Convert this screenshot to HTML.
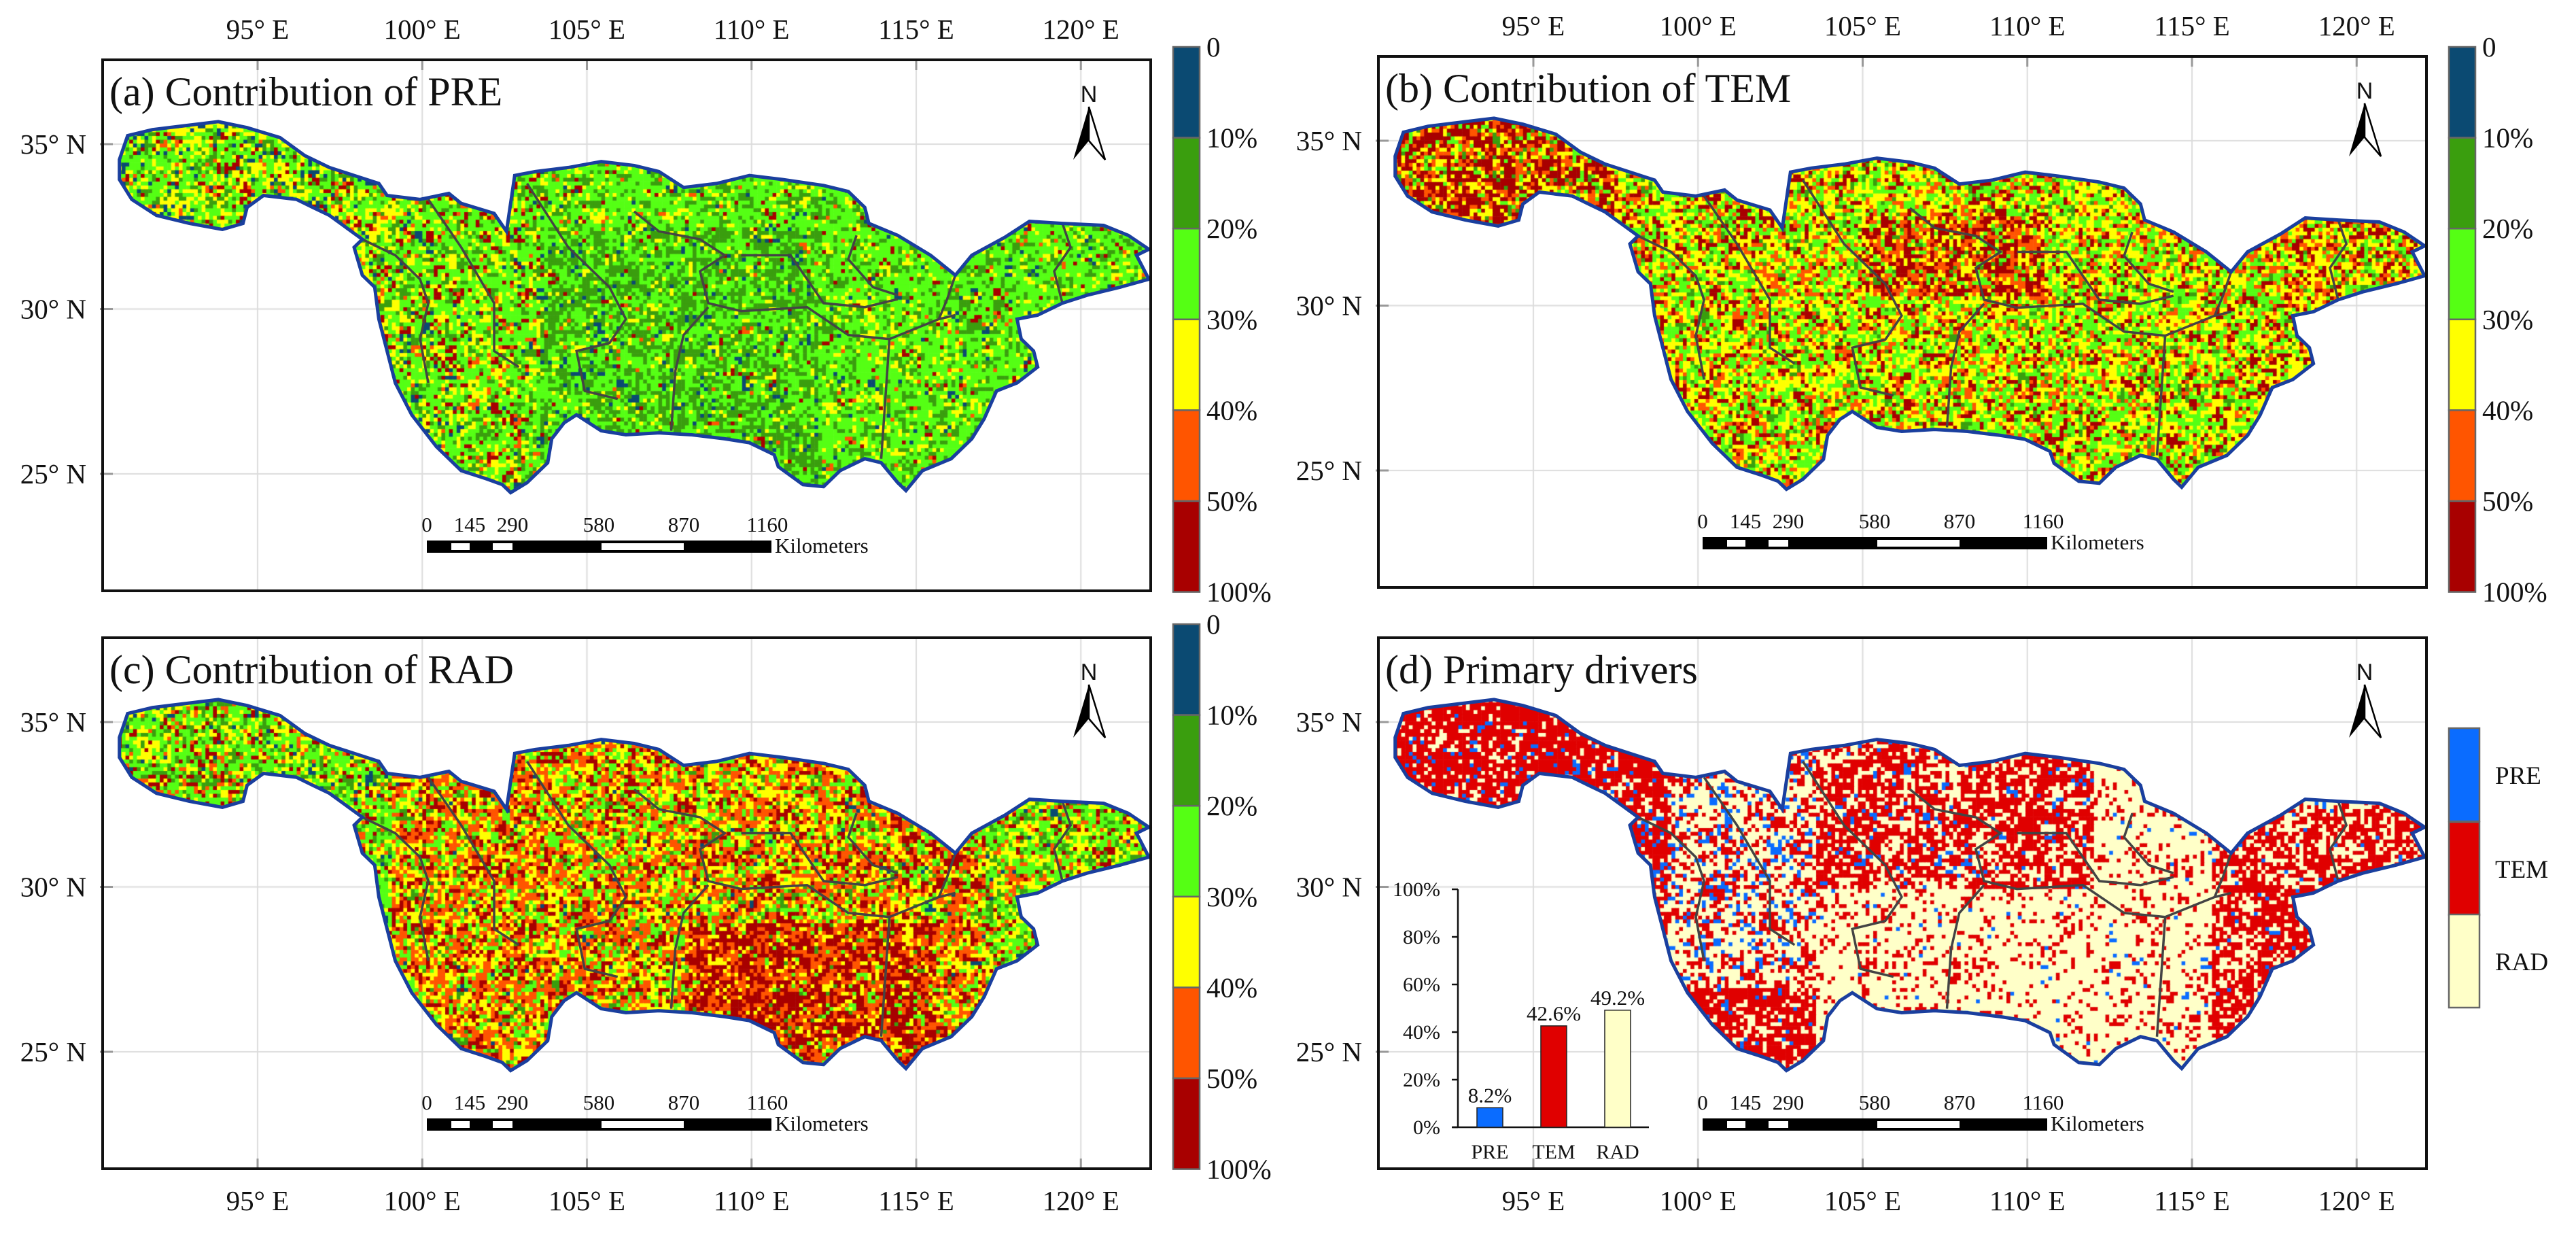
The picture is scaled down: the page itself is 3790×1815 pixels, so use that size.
<!DOCTYPE html>
<html><head><meta charset="utf-8">
<style>
html,body{margin:0;padding:0;background:#fff;}
#wrap{position:relative;width:3790px;height:1815px;overflow:hidden;}
#cv,#sv{position:absolute;left:0;top:0;}
text{font-family:"Liberation Serif",serif;fill:#111;}
</style></head>
<body>
<div id="wrap">
<canvas id="cv" width="3790" height="1815"></canvas>
<svg id="sv" width="3790" height="1815" xmlns="http://www.w3.org/2000/svg"></svg>
</div>
<script>
// ---- data ----
const lonTicks = [95,100,105,110,115,120];
const latTicks = [35,30,25];
const cbLabels = ['0','10%','20%','30%','40%','50%','100%'];
const cbColors = ['#0b4a72','#3a9e0e','#55ff14','#ffff00','#ff5500','#a80000'];
const scaleLabels = ['0','145','290','580','870','1160'];
const insetCats = ['PRE','TEM','RAD'];
const insetVals = [8.2,42.6,49.2];
const insetTicks = [0,20,40,60,80,100];
const driverColors = ['#0a6cff','#e00000','#ffffc8'];
const titles = ['(a) Contribution of PRE','(b) Contribution of TEM','(c) Contribution of RAD','(d) Primary drivers'];
// basin outline (traced)
const outline = [[145,400],[155,340],[185,325],[265,305],[300,320],[340,345],[370,390],[400,420],[430,440],[460,460],[470,490],[510,500],[545,485],[560,510],[600,535],[615,580],[625,440],[650,430],[690,420],[730,405],[770,415],[800,430],[830,470],[870,460],[910,440],[950,450],[1000,465],[1030,480],[1050,520],[1055,560],[1090,590],[1130,640],[1160,690],[1180,640],[1220,595],[1250,555],[1290,560],[1340,565],[1370,590],[1395,625],[1380,640],[1395,700],[1360,720],[1320,740],[1290,760],[1260,790],[1235,800],[1240,850],[1255,880],[1260,920],[1235,960],[1210,980],[1195,1050],[1180,1100],[1155,1150],[1120,1180],[1100,1230],[1090,1210],[1070,1160],[1050,1150],[1020,1180],[1000,1220],[975,1215],[945,1170],[940,1140],[910,1110],[880,1100],[840,1090],[800,1085],[760,1090],[730,1080],[700,1040],[685,1060],[670,1100],[665,1160],[640,1210],[620,1235],[610,1215],[590,1200],[560,1180],[530,1120],[500,1040],[480,960],[470,880],[460,800],[455,720],[440,690],[430,620],[440,600],[420,570],[400,540],[380,520],[360,500],[320,490],[300,520],[295,560],[270,575],[230,560],[190,540],[160,500],[145,450]];
const subLines = [
 [[440,600],[480,640],[510,700],[520,760],[510,850],[520,960]],
 [[520,500],[560,620],[600,760],[600,880],[630,920]],
 [[640,460],[690,620],[740,720],[760,800],[740,860],[700,880],[710,980],[750,1000]],
 [[770,530],[800,580],[850,600],[880,640],[850,680],[860,760],[900,780],[980,770],[1030,840],[1080,850],[1140,800],[1160,790]],
 [[860,770],[830,840],[820,930],[815,1080]],
 [[1080,850],[1075,1000],[1070,1150]],
 [[900,640],[960,640],[980,700],[1000,760],[1050,770],[1090,750]],
 [[1040,590],[1030,650],[1060,720],[1090,740]],
 [[1160,690],[1150,750],[1140,800]],
 [[1290,560],[1300,620],[1280,680],[1290,760]]
];
// ---- geometry ----
const panels = [{dx:0,dy:0},{dx:1877,dy:-5},{dx:0,dy:850},{dx:1877,dy:850}];
const FX0=151,FX1=1693,FY0=88,FY1=869;
function xOfLon(lon,p){return 379+(lon-95)*48.45+p.dx;}
function yOfLat(lat,p){return 212+(35-lat)*48.5+p.dy;}
function tr(o){return [95+(o[0]*1.2117-379)/48.45, 35-(o[1]*0.5867-212)/48.5];}
const NS='http://www.w3.org/2000/svg';
const svg=document.getElementById('sv');
function mk(tag,attrs,parent){const e=document.createElementNS(NS,tag);for(const k in attrs)e.setAttribute(k,attrs[k]);(parent||svg).appendChild(e);return e;}
function hash(i,j,s){let h=(i*374761393+j*668265263+s*982451653)|0;h=(h^(h>>>13))*1274126177|0;h=h^(h>>>16);return ((h>>>0)%100000)/100000;}
function weights(k,lon,lat){
 if(k===0){
  if(lon<100) return [.06,.15,.42,.24,.05,.08];
  if(lon<103.5) return [.03,.15,.45,.22,.05,.1];
  if(lon<112&&lat<32.5) return [.05,.42,.43,.07,.01,.02];
  return [.02,.2,.6,.13,.02,.03];
 }
 if(k===1){
  if(lon<97.5) return [0,.04,.1,.2,.2,.46];
  if(lon>105&&lon<110.5&&lat>30.3&&lat<32.8) return [0,.03,.12,.22,.23,.4];
  if(lon>117) return [0,.05,.2,.32,.2,.23];
  return [0,.06,.32,.33,.14,.15];
 }
 if(k===2){
  if(lon<99) return [.03,.15,.45,.2,.07,.1];
  if(lon>117) return [.01,.15,.38,.25,.09,.12];
  if(lon>108&&lon<115.5&&lat<29) return [0,.02,.05,.15,.3,.48];
  return [.01,.05,.2,.25,.3,.19];
 }
 if(lon<99) return [.08,.75,.17];
 if(lon<103.5&&lat>27) return [.15,.3,.55];
 if(lon<103.5) return [.05,.75,.2];
 if(lon<112&&lat>30) return [.05,.6,.35];
 if(lon<115.5) return [.02,.18,.8];
 return [.02,.6,.38];
}
// ---- gridlines (under raster) + raster ----
const cv=document.getElementById('cv');const ctx=cv.getContext('2d');
panels.forEach(p=>{
 ctx.strokeStyle='#dcdcdc';ctx.lineWidth=2;
 lonTicks.forEach(l=>{const x=xOfLon(l,p);ctx.beginPath();ctx.moveTo(x,FY0+p.dy);ctx.lineTo(x,FY1+p.dy);ctx.stroke();});
 latTicks.forEach(l=>{const y=yOfLat(l,p);ctx.beginPath();ctx.moveTo(FX0+p.dx,y);ctx.lineTo(FX1+p.dx,y);ctx.stroke();});
});
panels.forEach((p,k)=>{
 ctx.save();ctx.beginPath();
 outline.forEach((o,i)=>{const ll=tr(o);const x=xOfLon(ll[0],p),y=yOfLat(ll[1],p);i?ctx.lineTo(x,y):ctx.moveTo(x,y);});
 ctx.closePath();ctx.clip();
 const cs=5.6;const cols=k===3?driverColors:cbColors;
 for(let y=FY0+p.dy,j=0;y<FY1+p.dy;y+=cs,j++){
  for(let x=FX0+p.dx,i=0;x<FX1+p.dx;x+=cs,i++){
   const lon=95+(x-p.dx-379)/48.45,lat=35-(y-p.dy-212)/48.5;
   const w=weights(k,lon,lat);
   let r=hash(i,j,k+1);
   if(hash(i,j,k+7)<0.3) r=hash(Math.floor(i/3),Math.floor(j/3),k+3);
   let c=0,acc=0,tot=w.reduce((a,b)=>a+b,0);r*=tot;
   for(;c<w.length-1;c++){acc+=w[c];if(r<acc)break;}
   ctx.fillStyle=cols[c];ctx.fillRect(x,y,cs+0.6,cs+0.6);
  }
 }
 ctx.restore();
});
// ---- vectors ----
panels.forEach((p,k)=>{
 const g=mk('g',{});
 
 
 const x0=FX0+p.dx,x1=FX1+p.dx,y0=FY0+p.dy,y1=FY1+p.dy;
 lonTicks.forEach(l=>{const x=xOfLon(l,p);
  const tk=mk('line',{x1:x,y1:(k<2?y0:y1-15),x2:x,y2:(k<2?y0+15:y1),stroke:'#999','stroke-width':3},g);
  
  const t=mk('text',{x:x,y:(k<2?y0-31:y1+61),'text-anchor':'middle','font-size':41},g);t.textContent=l+'° E';
  
 });
 latTicks.forEach(l=>{const y=yOfLat(l,p);
  const tk=mk('line',{x1:x0-4,y1:y,x2:x0+15,y2:y,stroke:'#999','stroke-width':3},g);
  
  const t=mk('text',{x:x0-24,y:y+14,'text-anchor':'end','font-size':41},g);t.textContent=l+'° N';
  
 });
 const pts=outline.map(o=>{const ll=tr(o);return xOfLon(ll[0],p).toFixed(1)+','+yOfLat(ll[1],p).toFixed(1);}).join(' ');
 subLines.forEach(s=>{
  const sp=s.map(o=>{const ll=tr(o);return xOfLon(ll[0],p).toFixed(1)+','+yOfLat(ll[1],p).toFixed(1);}).join(' ');
  const pl=mk('polyline',{points:sp,fill:'none',stroke:'#444','stroke-width':3.5},g);
  
 });
 const pg=mk('polygon',{points:pts,fill:'none',stroke:'#1a3f9e','stroke-width':5},g);
 
 const fr=mk('rect',{x:x0,y:y0,width:x1-x0,height:y1-y0,fill:'none',stroke:'#111','stroke-width':4},g);
 
 const tt=mk('text',{x:x0+10,y:y0+67,'font-size':60},g);tt.textContent=titles[k];
 
 const na=mk('g',{},g);
 const ax=1602+p.dx,ay=p.dy;
 const nt=mk('text',{x:ax,y:ay+150,'text-anchor':'middle','font-size':34,style:'font-family:"Liberation Sans",sans-serif'},na);nt.textContent='N';
 mk('polygon',{points:`${ax},${ay+157} ${ax-23},${ay+235} ${ax},${ay+207}`,fill:'#000'},na);
 mk('polygon',{points:`${ax},${ay+157} ${ax+24},${ay+235} ${ax},${ay+207}`,fill:'#fff',stroke:'#000','stroke-width':2.5},na);
 const sb=mk('g',{},g);
 const bx=628+p.dx,by=795+p.dy;
 mk('rect',{x:bx,y:by,width:507,height:18,fill:'#000'},sb);
 [[664,691],[725,754],[885,1006]].forEach(s=>mk('rect',{x:s[0]+p.dx,y:by+4,width:s[1]-s[0],height:10,fill:'#fff'},sb));
 const sxs=[628,691,754,881,1006,1129];
 scaleLabels.forEach((s,i)=>{const t=mk('text',{x:sxs[i]+p.dx,y:by-13,'text-anchor':'middle','font-size':31},sb);t.textContent=s;});
 const km=mk('text',{x:1140+p.dx,y:by+18,'font-size':31},sb);km.textContent='Kilometers';
});
// colorbars a,b,c
[{x:1726,y:69},{x:3603,y:69},{x:1726,y:918}].forEach((c,k)=>{
 const g=mk('g',{});
 const h=133.6;
 cbColors.forEach((col,i)=>{const r=mk('rect',{x:c.x,y:c.y+i*h,width:39,height:h,fill:col,stroke:'#666','stroke-width':2.5},g);
  });
 cbLabels.forEach((l,i)=>{const t=mk('text',{x:c.x+49,y:c.y+i*h+14,'font-size':41},g);t.textContent=l;
  });
});
// legend d
(function(){
 const g=mk('g',{});
 const ys=[1071,1209,1345];
 insetCats.forEach((c,i)=>{
  const r=mk('rect',{x:3603,y:ys[i],width:45,height:137,fill:driverColors[i],stroke:'#666','stroke-width':2.5},g);
  
  const t=mk('text',{x:3671,y:ys[i]+82,'font-size':37},g);t.textContent=c;
  
 });
})();
// inset bar chart
(function(){
 const g=mk('g',{});
 const axX=2145,y0=1658,pxPer=3.5,x1=2426;
 const yOf=v=>y0-v*pxPer;
 const xc=i=>2192+i*94;
 mk('line',{x1:axX,y1:yOf(100),x2:axX,y2:y0,stroke:'#111','stroke-width':2.5},g);
 mk('line',{x1:axX-8,y1:y0,x2:x1,y2:y0,stroke:'#111','stroke-width':2.5},g);
 insetTicks.forEach(v=>{
  mk('line',{x1:axX-9,y1:yOf(v),x2:axX,y2:yOf(v),stroke:'#111','stroke-width':2.5},g);
  const t=mk('text',{x:axX-26,y:yOf(v)+10,'text-anchor':'end','font-size':30},g);t.textContent=v+'%';
  
 });
 insetVals.forEach((v,i)=>{
  const r=mk('rect',{x:xc(i)-19,y:yOf(v),width:38,height:v*pxPer,fill:driverColors[i],stroke:'#222','stroke-width':1.5},g);
  
  const t=mk('text',{x:xc(i),y:yOf(v)-8,'text-anchor':'middle','font-size':31},g);t.textContent=v.toFixed(1)+'%';
  
  const c=mk('text',{x:xc(i),y:y0+46,'text-anchor':'middle','font-size':30},g);c.textContent=insetCats[i];
  
 });
})();
</script>
</body></html>
